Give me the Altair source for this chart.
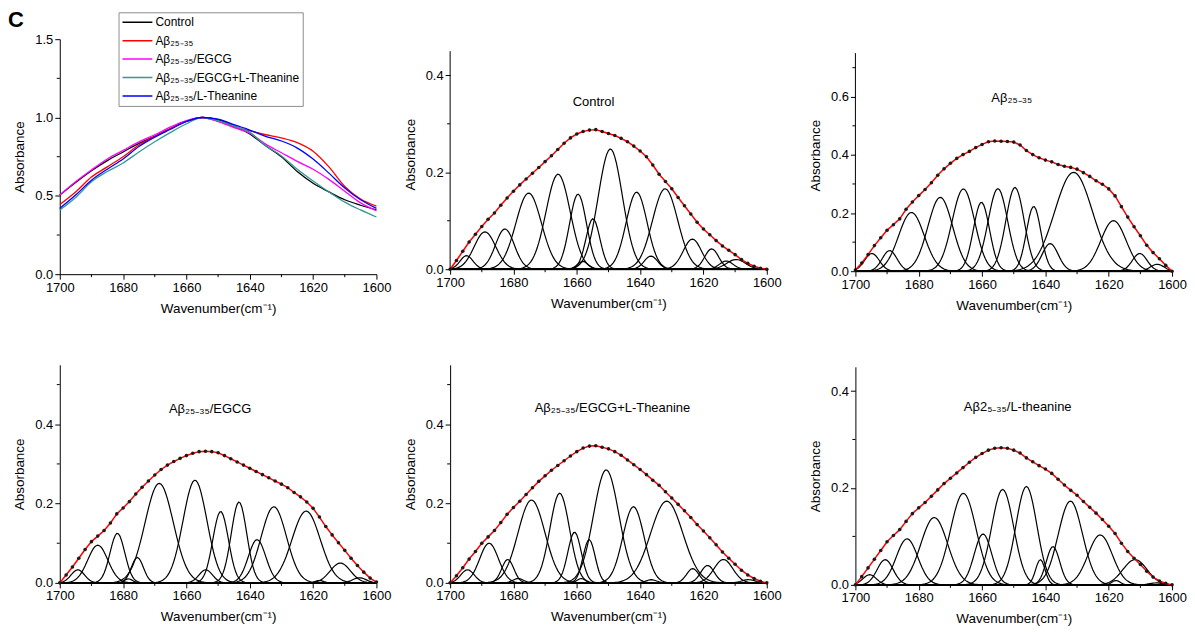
import numpy as np
import pandas as pd
import altair as alt

FONT = "Liberation Sans"

# ---------------- panel 1: normalised spectra ----------------
P1_WN = [1700, 1695, 1690, 1685, 1680, 1675, 1670, 1665, 1660, 1655, 1650,
         1645, 1640, 1635, 1630, 1625, 1620, 1615, 1610, 1605, 1600]
P1_CONTROL = [0.505, 0.585, 0.660, 0.725, 0.780, 0.835, 0.880, 0.930, 0.975, 1.000, 0.985,
              0.945, 0.895, 0.820, 0.750, 0.655, 0.580, 0.525, 0.475, 0.440, 0.410]
P1_AB = [0.445, 0.525, 0.620, 0.685, 0.750, 0.825, 0.880, 0.930, 0.975, 1.000, 0.975,
         0.940, 0.915, 0.890, 0.870, 0.840, 0.785, 0.685, 0.560, 0.480, 0.435]
P1_EGCG = [0.505, 0.590, 0.665, 0.735, 0.790, 0.845, 0.890, 0.940, 0.980, 1.000, 0.975,
           0.935, 0.900, 0.830, 0.775, 0.720, 0.670, 0.605, 0.530, 0.455, 0.405]
P1_EGCG_L = [0.410, 0.490, 0.590, 0.655, 0.710, 0.780, 0.845, 0.905, 0.960, 1.000, 0.980,
             0.945, 0.905, 0.820, 0.755, 0.670, 0.595, 0.525, 0.460, 0.410, 0.365]
P1_LTHE = [0.420, 0.505, 0.600, 0.670, 0.735, 0.815, 0.875, 0.925, 0.975, 1.000, 0.990,
           0.955, 0.920, 0.880, 0.850, 0.805, 0.735, 0.645, 0.550, 0.475, 0.420]

SERIES_NAMES = ["Control", "Aβ₂₅₋₃₅", "Aβ₂₅₋₃₅/EGCG",
                "Aβ₂₅₋₃₅/EGCG+L-Theanine", "Aβ₂₅₋₃₅/L-Theanine"]
SERIES_COLORS = ["#000000", "#ff0000", "#ff00ff", "#339999", "#0000ff"]

# ---------------- measured envelopes (1700 -> 1600, step 2) ----------------
ENV_WN = list(range(1700, 1599, -2))
ENV_CONTROL = [0.000, 0.018, 0.037, 0.056, 0.072, 0.088, 0.103, 0.116, 0.132, 0.147,
               0.161, 0.174, 0.186, 0.198, 0.210, 0.222, 0.234, 0.247, 0.260, 0.271,
               0.279, 0.284, 0.287, 0.288, 0.284, 0.280, 0.276, 0.270, 0.263, 0.254,
               0.244, 0.232, 0.215, 0.196, 0.181, 0.166, 0.148, 0.131, 0.114, 0.097,
               0.083, 0.071, 0.059, 0.048, 0.039, 0.030, 0.020, 0.012, 0.006, 0.002, 0.000]
ENV_AB = [0.004, 0.028, 0.057, 0.088, 0.115, 0.141, 0.160, 0.180, 0.213, 0.238,
          0.260, 0.281, 0.304, 0.330, 0.352, 0.371, 0.388, 0.401, 0.412, 0.425,
          0.436, 0.445, 0.448, 0.447, 0.446, 0.444, 0.434, 0.415, 0.401, 0.390,
          0.382, 0.376, 0.367, 0.361, 0.357, 0.351, 0.339, 0.326, 0.311, 0.299,
          0.283, 0.259, 0.222, 0.186, 0.153, 0.122, 0.089, 0.064, 0.043, 0.020, 0.000]
ENV_EGCG = [0.000, 0.020, 0.040, 0.062, 0.084, 0.104, 0.118, 0.132, 0.151, 0.174,
            0.189, 0.205, 0.224, 0.241, 0.257, 0.272, 0.286, 0.297, 0.306, 0.314,
            0.321, 0.327, 0.331, 0.332, 0.331, 0.328, 0.321, 0.313, 0.305, 0.297,
            0.289, 0.281, 0.273, 0.265, 0.257, 0.249, 0.240, 0.228, 0.217, 0.204,
            0.188, 0.166, 0.142, 0.121, 0.101, 0.082, 0.062, 0.044, 0.027, 0.012, 0.002]
ENV_EGCG_L = [0.000, 0.018, 0.038, 0.060, 0.079, 0.100, 0.116, 0.132, 0.152, 0.173,
              0.190, 0.206, 0.223, 0.240, 0.256, 0.270, 0.284, 0.296, 0.308, 0.320,
              0.331, 0.340, 0.345, 0.346, 0.342, 0.338, 0.331, 0.322, 0.310, 0.298,
              0.286, 0.273, 0.259, 0.246, 0.230, 0.214, 0.198, 0.182, 0.165, 0.147,
              0.131, 0.114, 0.096, 0.078, 0.062, 0.047, 0.032, 0.020, 0.011, 0.004, 0.000]
ENV_LTHE = [0.000, 0.017, 0.035, 0.053, 0.071, 0.089, 0.102, 0.114, 0.131, 0.147,
            0.159, 0.170, 0.183, 0.196, 0.209, 0.220, 0.231, 0.242, 0.253, 0.263,
            0.271, 0.278, 0.282, 0.283, 0.282, 0.278, 0.272, 0.262, 0.254, 0.246,
            0.239, 0.230, 0.218, 0.206, 0.195, 0.185, 0.172, 0.160, 0.148, 0.135,
            0.121, 0.106, 0.086, 0.069, 0.055, 0.042, 0.028, 0.016, 0.008, 0.003, 0.000]

# ---------------- fitted component bands: centre, height, FWHM ----------------
CEN_CONTROL = [1694.8, 1689.0, 1682.7, 1675.2, 1665.9, 1659.6, 1658.1, 1654.9,
               1649.4, 1641.1, 1636.6, 1632.1, 1623.5, 1617.4, 1612.8, 1609.7]
HGT_CONTROL = [0.028, 0.077, 0.083, 0.157, 0.196, 0.155, 0.016, 0.104,
               0.248, 0.159, 0.027, 0.166, 0.062, 0.042, 0.017, 0.020]
FW_CONTROL = [4.8, 8.0, 7.0, 9.5, 9.0, 6.3, 4.0, 5.2, 9.0, 7.8, 5.0, 9.4, 6.8, 5.2, 5.0, 7.0]

CEN_AB = [1694.8, 1689.2, 1682.3, 1673.2, 1665.9, 1660.2, 1655.0, 1649.6,
          1643.7, 1638.5, 1631.1, 1618.5, 1610.2, 1604.7]
HGT_AB = [0.061, 0.071, 0.202, 0.254, 0.283, 0.237, 0.284, 0.288,
          0.223, 0.095, 0.340, 0.174, 0.061, 0.024]
FW_AB = [5.5, 5.5, 9.5, 9.2, 8.4, 6.0, 7.3, 6.8, 5.4, 6.0, 14.0, 9.4, 5.5, 5.0]

CEN_EGCG = [1694.3, 1688.0, 1681.8, 1678.3, 1675.5, 1668.6, 1657.3, 1653.9,
            1649.2, 1643.4, 1637.7, 1632.4, 1622.2, 1618.0, 1611.4, 1605.4]
HGT_EGCG = [0.033, 0.095, 0.125, 0.010, 0.064, 0.251, 0.259, 0.033,
            0.180, 0.204, 0.109, 0.192, 0.181, 0.006, 0.050, 0.013]
FW_EGCG = [5.0, 7.5, 5.5, 3.0, 4.5, 10.5, 8.9, 5.0, 5.8, 5.8, 6.5, 9.4, 10.5, 3.0, 7.5, 5.0]

CEN_EGCG_L = [1694.5, 1687.7, 1681.8, 1678.5, 1674.3, 1665.4, 1660.7, 1658.6, 1656.1,
              1650.7, 1642.1, 1636.5, 1631.6, 1623.4, 1618.7, 1613.7, 1605.8]
HGT_EGCG_L = [0.033, 0.100, 0.059, 0.011, 0.209, 0.226, 0.128, 0.011, 0.109,
              0.285, 0.192, 0.008, 0.206, 0.036, 0.044, 0.059, 0.008]
FW_EGCG_L = [5.0, 7.0, 4.5, 4.0, 10.0, 7.3, 5.0, 3.0, 4.5, 9.4, 7.9, 4.0, 12.0, 4.5, 5.0, 7.0, 5.0]

CEN_LTHE = [1695.5, 1690.6, 1683.7, 1675.1, 1665.9, 1659.7, 1653.5, 1646.0,
            1641.6, 1637.6, 1632.1, 1622.7, 1617.7, 1611.7, 1604.9]
HGT_LTHE = [0.021, 0.052, 0.095, 0.139, 0.189, 0.105, 0.197, 0.203,
            0.052, 0.079, 0.173, 0.103, 0.009, 0.052, 0.004]
FW_LTHE = [5.0, 6.0, 8.0, 10.0, 9.5, 6.5, 8.2, 7.8, 3.5, 5.0, 9.0, 9.0, 3.0, 9.0, 5.0]

X_MAJOR = [1700, 1680, 1660, 1640, 1620, 1600]
X_MINOR = [1690, 1670, 1650, 1630, 1610]

W = 318
H_TOP1 = 236
H = 219

XSCALE = alt.Scale(domain=[1600, 1700], reverse=True, nice=False, zero=False)


def x_enc():
    return alt.X("wn:Q", scale=XSCALE,
                 axis=alt.Axis(values=X_MAJOR, format="d", title="Wavenumber(cm⁻¹)"))


def y_enc(ymax, ymajor, domain=True):
    return alt.Y("a:Q", scale=alt.Scale(domain=[0, ymax], nice=False, zero=True),
                 axis=alt.Axis(values=ymajor, format=".1f", title="Absorbance",
                               domain=domain))


def minor_ticks(height, yminor):
    xm = alt.Chart(pd.DataFrame({"wn": X_MINOR})).mark_rule(
        color="black", strokeWidth=1).encode(
        x=alt.X("wn:Q", scale=XSCALE), y=alt.value(height), y2=alt.value(height + 3))
    ym = alt.Chart(pd.DataFrame({"a": yminor})).mark_rule(
        color="black", strokeWidth=1).encode(
        y=alt.Y("a:Q"), x=alt.value(0), x2=alt.value(-3))
    return [xm, ym]


def label(text, px, py, size=13, weight="normal", align="center", baseline="middle"):
    return alt.Chart(pd.DataFrame({"s": [0]})).mark_text(
        text=text, font=FONT, fontSize=size, fontWeight=weight, color="black",
        align=align, baseline=baseline).encode(x=alt.value(px), y=alt.value(py))


def deconv_panel(title, tx, ty, env, cen, hgt, fw, ymax, ymajor, yminor, height=H):
    """height > H: the axis line still stops at ymax, the extra room sits above it."""
    assert len(env) == len(ENV_WN)
    ext = ymax * height / H
    grid = np.round(np.arange(1700.0, 1599.99, -0.5), 2)
    rows = []
    for k, (c, h, w) in enumerate(zip(cen, hgt, fw)):
        vals = h * np.exp(-4.0 * np.log(2.0) * (grid - c) ** 2 / w ** 2)
        for g, v in zip(grid, vals):
            rows.append({"wn": float(g), "a": float(v), "k": k})
    comp = pd.DataFrame(rows)
    envdf = pd.DataFrame({"wn": ENV_WN, "a": env})
    xe, ye = x_enc(), y_enc(ext, ymajor, domain=(height == H))
    comps = alt.Chart(comp).mark_line(color="black", strokeWidth=1.2).encode(
        x=xe, y=ye, detail="k:N")
    line = alt.Chart(envdf).mark_line(color="#ff0000", strokeWidth=1.5).encode(x=xe, y=ye)
    dots = alt.Chart(envdf).mark_circle(color="#1a1a1a", size=13, opacity=1).encode(x=xe, y=ye)
    layers = [comps, line, dots] + minor_ticks(height, yminor)
    if height != H:
        axis_line = alt.Chart(pd.DataFrame({"a": [0.0], "a2": [ymax]})).mark_rule(
            color="black", strokeWidth=1).encode(
            x=alt.value(0), y=alt.Y("a:Q"), y2=alt.Y2("a2"))
        layers.append(axis_line)
    layers.append(label(title, tx, ty + (height - H)))
    return alt.layer(*layers).properties(width=W, height=height)


# ---------- panel 1 ----------
p1_rows = []
for name, vals in zip(SERIES_NAMES, [P1_CONTROL, P1_AB, P1_EGCG, P1_EGCG_L, P1_LTHE]):
    for w_, v in zip(P1_WN, vals):
        p1_rows.append({"wn": w_, "a": v, "series": name})
p1df = pd.DataFrame(p1_rows)

p1_lines = alt.Chart(p1df).mark_line(strokeWidth=1.3, interpolate="monotone").encode(
    x=x_enc(), y=y_enc(1.5, [0.0, 0.5, 1.0, 1.5]),
    color=alt.Color("series:N",
                    scale=alt.Scale(domain=SERIES_NAMES, range=SERIES_COLORS),
                    legend=alt.Legend(title=None, orient="none", legendX=59, legendY=-27,
                                      symbolType="stroke", symbolSize=900,
                                      symbolStrokeWidth=1.5, labelFont=FONT,
                                      labelFontSize=12, labelColor="black",
                                      strokeColor="#8c8c8c", fillColor="white",
                                      padding=3, rowPadding=4.5, clipHeight=14,
                                      labelOffset=2, labelLimit=300)))
p1 = alt.layer(p1_lines, *minor_ticks(H_TOP1, [0.25, 0.75, 1.25]),
               label("C", -52, -12, size=22, weight="bold", align="left",
                     baseline="alphabetic")).properties(width=W, height=H_TOP1)

p2 = deconv_panel("Control", 144, 51, ENV_CONTROL, CEN_CONTROL, HGT_CONTROL, FW_CONTROL,
                  0.45, [0.0, 0.2, 0.4], [0.1, 0.3], height=231)
p3 = deconv_panel("Aβ₂₅₋₃₅", 157, 45, ENV_AB, CEN_AB, HGT_AB, FW_AB,
                  0.75, [0.0, 0.2, 0.4, 0.6], [0.1, 0.3, 0.5, 0.7], height=233)
p4 = deconv_panel("Aβ₂₅₋₃₅/EGCG", 151, 44, ENV_EGCG, CEN_EGCG, HGT_EGCG, FW_EGCG,
                  0.55, [0.0, 0.2, 0.4], [0.1, 0.3, 0.5])
p5 = deconv_panel("Aβ₂₅₋₃₅/EGCG+L-Theanine", 163, 43, ENV_EGCG_L, CEN_EGCG_L, HGT_EGCG_L,
                  FW_EGCG_L, 0.55, [0.0, 0.2, 0.4], [0.1, 0.3, 0.5])
p6 = deconv_panel("Aβ2₅₋₃₅/L-theanine", 163, 40, ENV_LTHE, CEN_LTHE, HGT_LTHE, FW_LTHE,
                  0.45, [0.0, 0.2, 0.4], [0.1, 0.3])

col1 = alt.vconcat(p1, p4, spacing=50)
col2 = alt.vconcat(p2, p5, spacing=55)
col3 = alt.vconcat(p3, p6, spacing=55)

left = alt.hconcat(col1, col2, spacing=11)
chart = alt.hconcat(left, col3, spacing=26).properties(
    padding={"left": 0, "top": 0, "right": 0, "bottom": 0}
).configure_view(strokeWidth=0).configure_axis(
    labelFont=FONT, titleFont=FONT, labelFontSize=13, titleFontSize=13.5,
    titleFontWeight="normal", labelColor="black", titleColor="black",
    domainColor="black", tickColor="black", tickSize=5, labelPadding=2,
    grid=False, labelFlush=False, labelOverlap=False, domainWidth=1, tickWidth=1
).configure_axisX(titlePadding=7).configure_axisY(titlePadding=8)

chart.save("out.html", embed_options={"renderer": "svg", "actions": False})
